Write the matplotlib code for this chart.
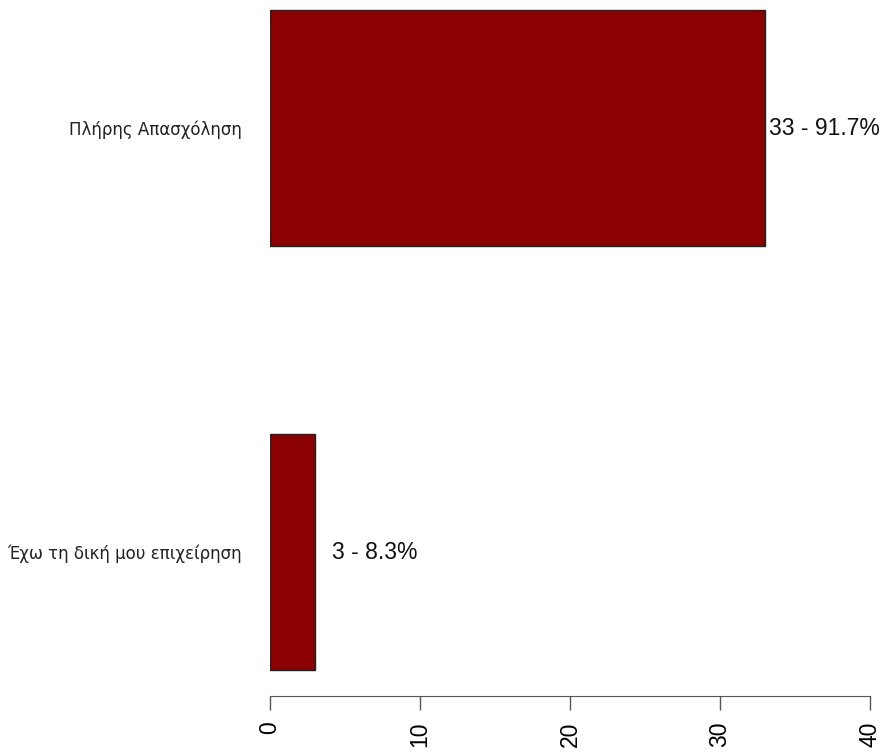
import matplotlib
matplotlib.use("Agg")
import matplotlib.pyplot as plt

categories = ["Έχω τη δική μου επιχείρηση", "Πλήρης Απασχόληση"]
counts = [3, 33]
percents = [8.3, 91.7]
xticks = [0, 10, 20, 30, 40]

W, H = 883, 754
fig = plt.figure(figsize=(W / 100, H / 100), dpi=100)
ax = fig.add_axes([270 / W, (H - 696) / H, 600 / W, 696 / H])

ypos = list(range(len(categories)))
ax.barh(ypos, counts, height=0.557, color="#8B0000", edgecolor="#222222", linewidth=1)

for y, c, p in zip(ypos, counts, percents):
    ax.text(c + 3.95, y, f"{c} - {p}%", ha="center", va="center",
            fontsize=16.5, family="Liberation Sans", color="#111111")

ax.set_xlim(0, 40)
ax.set_ylim(-0.3396, 1.302)

ax.set_yticks(ypos)
ax.set_yticklabels(categories, fontsize=12, family="DejaVu Sans", color="#222222")
ax.tick_params(axis="y", length=0, pad=20)

ax.set_xticks(xticks)
ax.set_xticklabels([str(t) for t in xticks], rotation=90, fontsize=16.5,
                   family="Liberation Sans", va="top", ha="center")
ax.tick_params(axis="x", length=10, width=1, pad=8.5, color="#555555")

for side in ["left", "top", "right"]:
    ax.spines[side].set_visible(False)
ax.spines["bottom"].set_bounds(0, 40)
ax.spines["bottom"].set_color("#555555")

fig.savefig("out.png", dpi=100)
